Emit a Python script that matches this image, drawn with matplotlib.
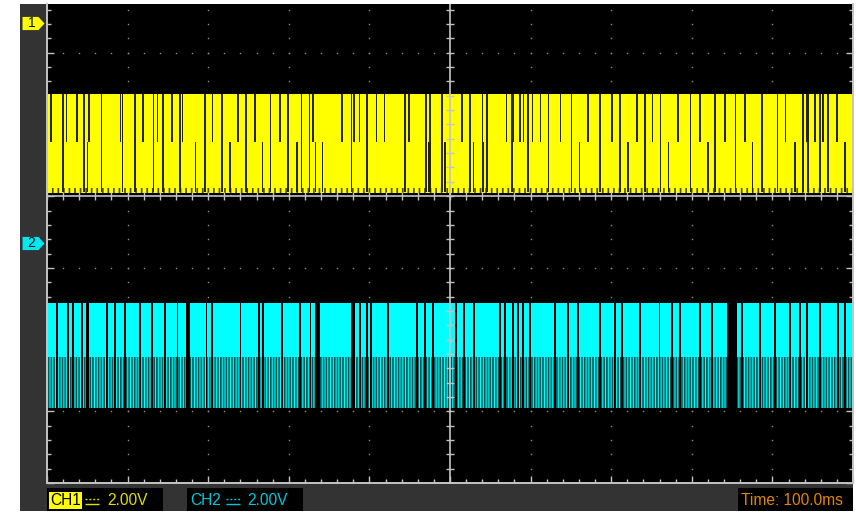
import matplotlib
matplotlib.use("Agg")
import matplotlib.pyplot as plt
from matplotlib.ticker import MultipleLocator
from matplotlib.transforms import blended_transform_factory
from matplotlib.patches import Rectangle
from matplotlib.path import Path
import numpy as np

W, H, DPI = 856, 513, 100

# ---- scope settings -------------------------------------------------------
ms_per_div = 100.0          # Time: 100.0ms
v_per_div = 2.0             # CH1 / CH2: 2.00V
t_span = [0.0, 1000.0]      # 10 horizontal divisions
v_span = [-8.0, 5.36]       # visible part of the screen, volts

ch1_offset = 4.83           # ground marker "1"
ch2_offset = -1.31          # ground marker "2"

# ---- channel 1 (yellow): three-level burst ---------------------------------
ch1_low, ch1_mid, ch1_high = 0.12, 1.50, 2.85
# times (ms) where the trace drops through the whole swing
ch1_full_drops = [20, 46, 68, 94, 109, 132, 144, 165, 196, 217, 247, 277, 299,
                  316, 326, 378, 397, 444, 470, 475, 490, 525, 546, 577, 597,
                  622, 651, 686, 711, 742, 761, 798, 829, 854, 887, 906, 938,
                  944, 959, 969]
# times (ms) where it drops only from the high to the middle level
ch1_upper_drops = [5, 24, 37, 52, 91, 119, 137, 155, 168, 205, 237, 258, 289,
                   330, 366, 381, 388, 409, 419, 449, 491, 515, 540, 570, 579,
                   587, 591, 602, 612, 637, 671, 701, 732, 751, 783, 810, 841,
                   866, 916, 942, 953, 963, 980]
# times (ms) where it drops only from the middle to the low level
ch1_lower_drops = [50, 184, 227, 267, 310, 333, 342, 473, 494, 529, 541, 661,
                   721, 771, 820, 875, 928, 990]

# ---- channel 2 (cyan) ------------------------------------------------------
ch2_low, ch2_mid, ch2_high = -5.91, -4.49, -2.98
ch2_gap_times = [12, 26, 32, 43, 50, 74, 84, 97, 115, 130, 146, 162, 175, 198,
                 205, 240, 263, 268, 292, 314, 327, 336, 380, 388, 397, 402,
                 423, 459, 469, 479, 507, 517, 530, 562, 568, 578, 584, 591,
                 599, 630, 646, 659, 686, 705, 713, 736, 760, 775, 785, 810,
                 825, 850, 862, 885, 903, 922, 934, 943, 959, 981, 990]
ch2_gap_widths = [2.2, 2.2, 2.2, 2.2, 4.0, 2.2, 2.2, 2.2, 2.2, 2.2, 2.2, 2.2,
                  5.0, 2.2, 2.2, 2.2, 2.2, 2.2, 2.2, 2.2, 2.2, 6.0, 5.0, 2.2,
                  2.2, 2.2, 3.0, 2.2, 2.2, 2.2, 2.2, 2.2, 2.2, 2.2, 2.2, 2.2,
                  2.2, 2.2, 2.2, 2.2, 2.2, 2.2, 2.2, 2.2, 2.2, 2.2, 2.2, 2.2,
                  2.2, 2.2, 2.2, 12.0, 2.2, 2.2, 2.2, 2.2, 2.2, 2.2, 2.2, 2.2,
                  2.2]

# ---- status bar texts --------------------------------------------------------
ch1_label, ch2_label = "CH1", "CH2"
ch1_scale_text, ch2_scale_text = "2.00V", "2.00V"
time_text = "Time: 100.0ms"

YELLOW = "#ffff00"
CYAN = "#00ffff"
FRAME = "#333333"
LINE = "#c4c4c4"

plt.rcParams["font.family"] = ["Liberation Sans", "DejaVu Sans"]
plt.rcParams["hatch.linewidth"] = 1.2

fig = plt.figure(figsize=(W / DPI, H / DPI), dpi=DPI, facecolor="white")

# pixel-space layer for the instrument frame and status bar
bg = fig.add_axes([0, 0, 1, 1], zorder=0)
bg.set_xlim(0, W)
bg.set_ylim(H, 0)
bg.axis("off")
bg.add_patch(Rectangle((20, 4), 833, 507, facecolor=FRAME, edgecolor="none"))

# screen area
left, right, top, bottom = 47, 853, 4, 483
ax = fig.add_axes([left / W, (H - bottom) / H, (right - left) / W, (bottom - top) / H],
                  zorder=1)
ax.set_facecolor("black")
ax.set_xlim(*t_span)
ax.set_ylim(*v_span)

# graticule dots
div_x = np.arange(t_span[0] + ms_per_div, t_span[1], ms_per_div)
div_y = np.arange(-6.0, v_span[1], v_per_div)
minor_x = np.arange(t_span[0], t_span[1] + 1e-6, ms_per_div / 5)
minor_y = np.arange(v_span[0], v_span[1], v_per_div / 5)
for x in div_x:
    if abs(x - 500) > 1e-6:
        ax.plot(np.full_like(minor_y, x), minor_y, ls="none", marker="s",
                ms=1.0, mec="none", mfc="#8c8c8c", zorder=1)
for y in div_y:
    if abs(y) > 1e-6:
        ax.plot(minor_x, np.full_like(minor_x, y), ls="none", marker="s",
                ms=1.0, mec="none", mfc="#8c8c8c", zorder=1)

# channel 1 trace
ax.fill_between(t_span, ch1_low, ch1_high, color=YELLOW, lw=0, zorder=2)
ax.fill_between(t_span, ch1_low - 0.02, ch1_low + 0.12, facecolor=YELLOW,
                edgecolor="#4a4a00", hatch="|||", lw=0, zorder=2)
drop_c = "#262600"
drop_w = 1.7
ax.bar(ch1_full_drops, ch1_high - ch1_low, bottom=ch1_low, width=drop_w,
       color=drop_c, lw=0, zorder=3)
ax.bar(ch1_upper_drops, ch1_high - ch1_mid, bottom=ch1_mid, width=drop_w,
       color=drop_c, lw=0, zorder=3)
ax.bar(ch1_lower_drops, ch1_mid - ch1_low, bottom=ch1_low, width=drop_w,
       color=drop_c, lw=0, zorder=3)

# channel 2 trace
ax.fill_between(t_span, ch2_mid, ch2_high, color=CYAN, lw=0, zorder=2)
ax.fill_between(t_span, ch2_low, ch2_mid, facecolor=CYAN, edgecolor="#005a5a",
                hatch="||||||", lw=0, zorder=2)
ax.bar(ch2_gap_times, ch2_high - ch2_low, bottom=ch2_low, width=ch2_gap_widths,
       color="black", lw=0, zorder=3)

# centre crosshair with fine ticks
ax.axhline(0, color=LINE, lw=1.2, zorder=4)
ax.axvline(500, color=LINE, lw=1.2, zorder=4)
ax.plot(minor_x, np.zeros_like(minor_x), ls="none", marker="|", ms=5.5,
        mew=1.0, color=LINE, zorder=4)
ax.plot(np.full_like(minor_y, 500), minor_y, ls="none", marker="_", ms=5.5,
        mew=1.0, color=LINE, zorder=4)

# border ticks
ax.xaxis.set_major_locator(MultipleLocator(ms_per_div))
ax.xaxis.set_minor_locator(MultipleLocator(ms_per_div / 5))
ax.yaxis.set_major_locator(MultipleLocator(v_per_div))
ax.yaxis.set_minor_locator(MultipleLocator(v_per_div / 5))
ax.tick_params(which="both", direction="in", color=LINE, left=True, right=True,
               bottom=True, top=False, labelleft=False, labelbottom=False)
ax.tick_params(which="major", length=5.0, width=1.0)
ax.tick_params(which="minor", length=2.6, width=1.0)
for side in ("left", "right", "bottom"):
    ax.spines[side].set_color(LINE)
    ax.spines[side].set_linewidth(1.4)
ax.spines["top"].set_visible(False)

# channel ground markers in the left strip
tag = Path([(-1.0, -0.6), (0.45, -0.6), (1.0, 0.0), (0.45, 0.6), (-1.0, 0.6),
            (-1.0, -0.6)],
           [Path.MOVETO, Path.LINETO, Path.LINETO, Path.LINETO, Path.LINETO,
            Path.CLOSEPOLY])
mtrans = blended_transform_factory(bg.transData, ax.transData)
for off, col, num in ((ch1_offset, YELLOW, "1"), (ch2_offset, "#00e8f0", "2")):
    ax.plot([33.5], [off], marker=tag, ms=15.8, mfc=col, mec="none",
            transform=mtrans, clip_on=False, zorder=5)
    ax.text(31.5, off, num, transform=mtrans, ha="center", va="center",
            fontsize=10, color="#101010", clip_on=False, zorder=6)

# status bar
for x0, x1 in ((47, 163), (187, 303), (738, 853)):
    bg.add_patch(Rectangle((x0, 488), x1 - x0, 22.5, facecolor="black",
                           edgecolor="none"))
bg.add_patch(Rectangle((49.3, 491.7), 33, 17.6, facecolor=YELLOW, edgecolor="none"))
fs = 11.2
ty = 500.5
bg.text(50.5, ty, ch1_label, color="black", fontsize=fs, va="center", ha="left")
bg.text(107.5, ty, ch1_scale_text, color="#dede00", fontsize=fs, va="center", ha="left")
bg.text(190.5, ty, ch2_label, color="#00c8d8", fontsize=fs, va="center", ha="left")
bg.text(247.5, ty, ch2_scale_text, color="#00c8d8", fontsize=fs, va="center", ha="left")
bg.text(741.5, ty, time_text, color="#e08600", fontsize=fs, va="center", ha="left")


def coupling_symbol(x0, color):
    """DC coupling glyph: dotted line over a solid line."""
    bg.plot([x0, x0 + 14], [503.5, 503.5], color=color, lw=1.0,
            solid_capstyle="butt")
    bg.plot([x0, x0 + 14], [498.5, 498.5], color=color, lw=1.0,
            dashes=(1.4, 1.4))


coupling_symbol(85, "#dede00")
coupling_symbol(226, "#00c8d8")

fig.savefig("out.png", dpi=DPI, facecolor="white")
